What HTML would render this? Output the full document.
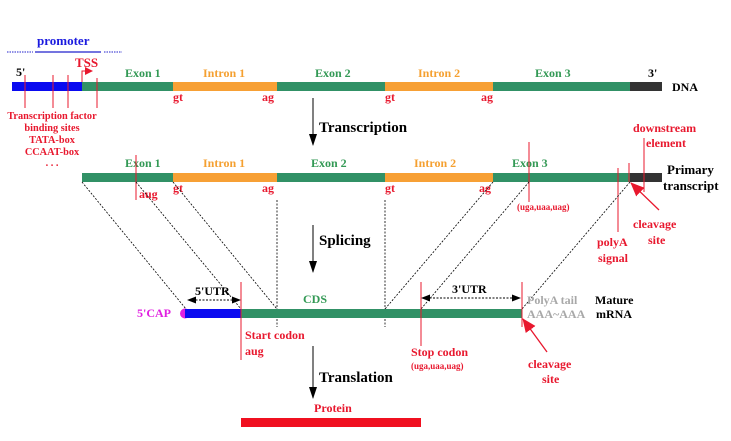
<!DOCTYPE html>
<html><head><meta charset="utf-8"><style>
html,body{margin:0;padding:0;background:#fff;}
svg{display:block;}
text{font-family:"Liberation Serif",serif;font-weight:bold;}
</style></head><body>
<svg width="731" height="441" viewBox="0 0 731 441" xmlns="http://www.w3.org/2000/svg">
<defs>
<marker id="abs" markerWidth="12" markerHeight="8" refX="11" refY="4" orient="auto" markerUnits="userSpaceOnUse"><path d="M0,0 L12,4 L0,8 z" fill="#000"/></marker>
<marker id="ar" markerWidth="14" markerHeight="12" refX="13" refY="6" orient="auto" markerUnits="userSpaceOnUse"><path d="M0,0 L14,6 L0,12 z" fill="#e8182e"/></marker>
<marker id="tss" markerWidth="8" markerHeight="8" refX="7" refY="4" orient="auto" markerUnits="userSpaceOnUse"><path d="M0,0 L8,4 L0,8 z" fill="#e8182e"/></marker>
</defs>

<!-- promoter -->
<text x="37" y="45" font-size="13" fill="#1a1adf">promoter</text>
<line x1="7" y1="52" x2="33" y2="52" stroke="#2222cc" stroke-width="1" stroke-dasharray="1.5,1"/>
<line x1="35" y1="52" x2="101" y2="52" stroke="#2222cc" stroke-width="1.2"/>
<line x1="104" y1="52" x2="122" y2="52" stroke="#2222cc" stroke-width="1" stroke-dasharray="1.5,1"/>

<!-- DNA row -->
<rect x="12" y="82" width="70" height="9" fill="#0a0af0"/>
<rect x="82" y="82" width="91" height="9" fill="#319166"/>
<rect x="173" y="82" width="104" height="9" fill="#f7a035"/>
<rect x="277" y="82" width="108" height="9" fill="#319166"/>
<rect x="385" y="82" width="108" height="9" fill="#f7a035"/>
<rect x="493" y="82" width="137" height="9" fill="#319166"/>
<rect x="630" y="82" width="32" height="9" fill="#333"/>

<g stroke="#e8182e" stroke-width="1">
<line x1="25" y1="75" x2="25" y2="108"/>
<line x1="53" y1="75" x2="53" y2="108"/>
<line x1="68" y1="75" x2="68" y2="108"/>
<line x1="97" y1="78" x2="97" y2="108"/>
<polyline points="82,82 82,71 92,71" fill="none" marker-end="url(#tss)"/>
</g>
<text x="16" y="76" font-size="12" fill="#000">5'</text>
<text x="75" y="67" font-size="13" fill="#e8182e">TSS</text>
<text x="125" y="77" font-size="12" fill="#339955">Exon 1</text>
<text x="203" y="77" font-size="12" fill="#f5a030">Intron 1</text>
<text x="315" y="77" font-size="12" fill="#339955">Exon 2</text>
<text x="418" y="77" font-size="12" fill="#f5a030">Intron 2</text>
<text x="535" y="77" font-size="12" fill="#339955">Exon 3</text>
<text x="648" y="77" font-size="12" fill="#000">3'</text>
<text x="672" y="91" font-size="12" fill="#000">DNA</text>
<text x="173" y="101" font-size="12" fill="#e8182e">gt</text>
<text x="262" y="101" font-size="12" fill="#e8182e">ag</text>
<text x="385" y="101" font-size="12" fill="#e8182e">gt</text>
<text x="481" y="101" font-size="12" fill="#e8182e">ag</text>

<g font-size="10.3" fill="#e8182e" text-anchor="middle">
<text x="52" y="119">Transcription factor</text>
<text x="52" y="131">binding sites</text>
<text x="52" y="143">TATA-box</text>
<text x="52" y="155">CCAAT-box</text>
<text x="52" y="166">. . .</text>
</g>

<!-- Transcription arrow -->
<line x1="313" y1="98" x2="313" y2="145" stroke="#000" stroke-width="1" marker-end="url(#abs)"/>
<text x="319" y="132" font-size="15" fill="#000">Transcription</text>

<!-- Primary transcript row -->
<rect x="82" y="173" width="91" height="9" fill="#319166"/>
<rect x="173" y="173" width="104" height="9" fill="#f7a035"/>
<rect x="277" y="173" width="108" height="9" fill="#319166"/>
<rect x="385" y="173" width="108" height="9" fill="#f7a035"/>
<rect x="493" y="173" width="137" height="9" fill="#319166"/>
<rect x="630" y="173" width="32" height="9" fill="#333"/>

<text x="125" y="167" font-size="12" fill="#339955">Exon 1</text>
<text x="203" y="167" font-size="12" fill="#f5a030">Intron 1</text>
<text x="311" y="167" font-size="12" fill="#339955">Exon 2</text>
<text x="414" y="167" font-size="12" fill="#f5a030">Intron 2</text>
<text x="512" y="167" font-size="12" fill="#339955">Exon 3</text>
<text x="139" y="198" font-size="12" fill="#e8182e">aug</text>
<text x="173" y="192" font-size="12" fill="#e8182e">gt</text>
<text x="262" y="192" font-size="12" fill="#e8182e">ag</text>
<text x="385" y="192" font-size="12" fill="#e8182e">gt</text>
<text x="479" y="192" font-size="12" fill="#e8182e">ag</text>
<text x="517" y="210" font-size="9" fill="#e8182e">(uga,uaa,uag)</text>

<g stroke="#e8182e" stroke-width="1">
<line x1="136" y1="155" x2="136" y2="200"/>
<line x1="529" y1="142" x2="529" y2="202"/>
<line x1="618" y1="168" x2="618" y2="232"/>
<line x1="629" y1="163" x2="629" y2="182"/>
<line x1="644" y1="138" x2="644" y2="192"/>
</g>
<line x1="659" y1="210" x2="631" y2="183" stroke="#e8182e" stroke-width="1.3" marker-end="url(#ar)"/>
<text x="633" y="132" font-size="12" fill="#e8182e">downstream</text>
<text x="646" y="147" font-size="12" fill="#e8182e">element</text>
<text x="667" y="174" font-size="13" fill="#000">Primary</text>
<text x="663" y="190" font-size="13" fill="#000">transcript</text>
<text x="633" y="228" font-size="12" fill="#e8182e">cleavage</text>
<text x="648" y="244" font-size="12" fill="#e8182e">site</text>
<text x="597" y="246" font-size="12" fill="#e8182e">polyA</text>
<text x="598" y="262" font-size="12" fill="#e8182e">signal</text>

<!-- splicing connectors -->
<g stroke="#000" stroke-width="0.8" stroke-dasharray="2,1.5" fill="none">
<line x1="82" y1="182" x2="186" y2="309"/>
<line x1="136" y1="182" x2="241" y2="309"/>
<line x1="173" y1="182" x2="277" y2="309"/>
<line x1="493" y1="182" x2="385" y2="309"/>
<line x1="529" y1="182" x2="421" y2="309"/>
<line x1="630" y1="182" x2="522" y2="309"/>
<line x1="277" y1="200" x2="277" y2="327"/>
<line x1="385" y1="200" x2="385" y2="327"/>
</g>

<!-- Splicing arrow -->
<line x1="313" y1="225" x2="313" y2="272" stroke="#000" stroke-width="1" marker-end="url(#abs)"/>
<text x="319" y="245" font-size="15" fill="#000">Splicing</text>

<!-- mature mRNA -->
<circle cx="185" cy="313.5" r="5" fill="#e020e0"/>
<rect x="185" y="309" width="56" height="9" fill="#0a0af0"/>
<rect x="241" y="309" width="281" height="9" fill="#319166"/>
<text x="137" y="317" font-size="12" fill="#e020e0">5'CAP</text>
<text x="303" y="303" font-size="12" fill="#339955">CDS</text>

<g stroke="#000" stroke-width="1" stroke-dasharray="2,1.5">
<line x1="192" y1="300" x2="236" y2="300"/>
<line x1="426" y1="298" x2="516" y2="298"/>
</g>
<path d="M187,300 L196,296.5 L196,303.5 z" fill="#000"/>
<path d="M241,300 L232,296.5 L232,303.5 z" fill="#000"/>
<path d="M421,298 L430,294.5 L430,301.5 z" fill="#000"/>
<path d="M521,298 L512,294.5 L512,301.5 z" fill="#000"/>
<text x="195" y="295" font-size="12" fill="#000">5'UTR</text>
<text x="452" y="293" font-size="12" fill="#000">3'UTR</text>

<g stroke="#e8182e" stroke-width="1">
<line x1="241" y1="282" x2="241" y2="360"/>
<line x1="421" y1="282" x2="421" y2="346"/>
<line x1="522" y1="282" x2="522" y2="327"/>
</g>
<line x1="547" y1="352" x2="523" y2="319" stroke="#e8182e" stroke-width="1.3" marker-end="url(#ar)"/>

<text x="245" y="339" font-size="12" fill="#e8182e">Start codon</text>
<text x="245" y="355" font-size="12" fill="#e8182e">aug</text>
<text x="411" y="356" font-size="12" fill="#e8182e">Stop codon</text>
<text x="411" y="369" font-size="9" fill="#e8182e">(uga,uaa,uag)</text>
<text x="528" y="368" font-size="12" fill="#e8182e">cleavage</text>
<text x="542" y="383" font-size="12" fill="#e8182e">site</text>
<text x="527" y="304" font-size="12" fill="#a8a8a8">PolyA tail</text>
<text x="527" y="318" font-size="12" fill="#a8a8a8">AAA~AAA</text>
<text x="595" y="304" font-size="12" fill="#000">Mature</text>
<text x="596" y="318" font-size="12" fill="#000">mRNA</text>

<!-- Translation -->
<line x1="313" y1="346" x2="313" y2="398" stroke="#000" stroke-width="1" marker-end="url(#abs)"/>
<text x="319" y="382" font-size="15" fill="#000">Translation</text>
<text x="314" y="412" font-size="12" fill="#e8182e">Protein</text>
<rect x="241" y="418" width="180" height="9" fill="#f01020"/>
</svg>
</body></html>
